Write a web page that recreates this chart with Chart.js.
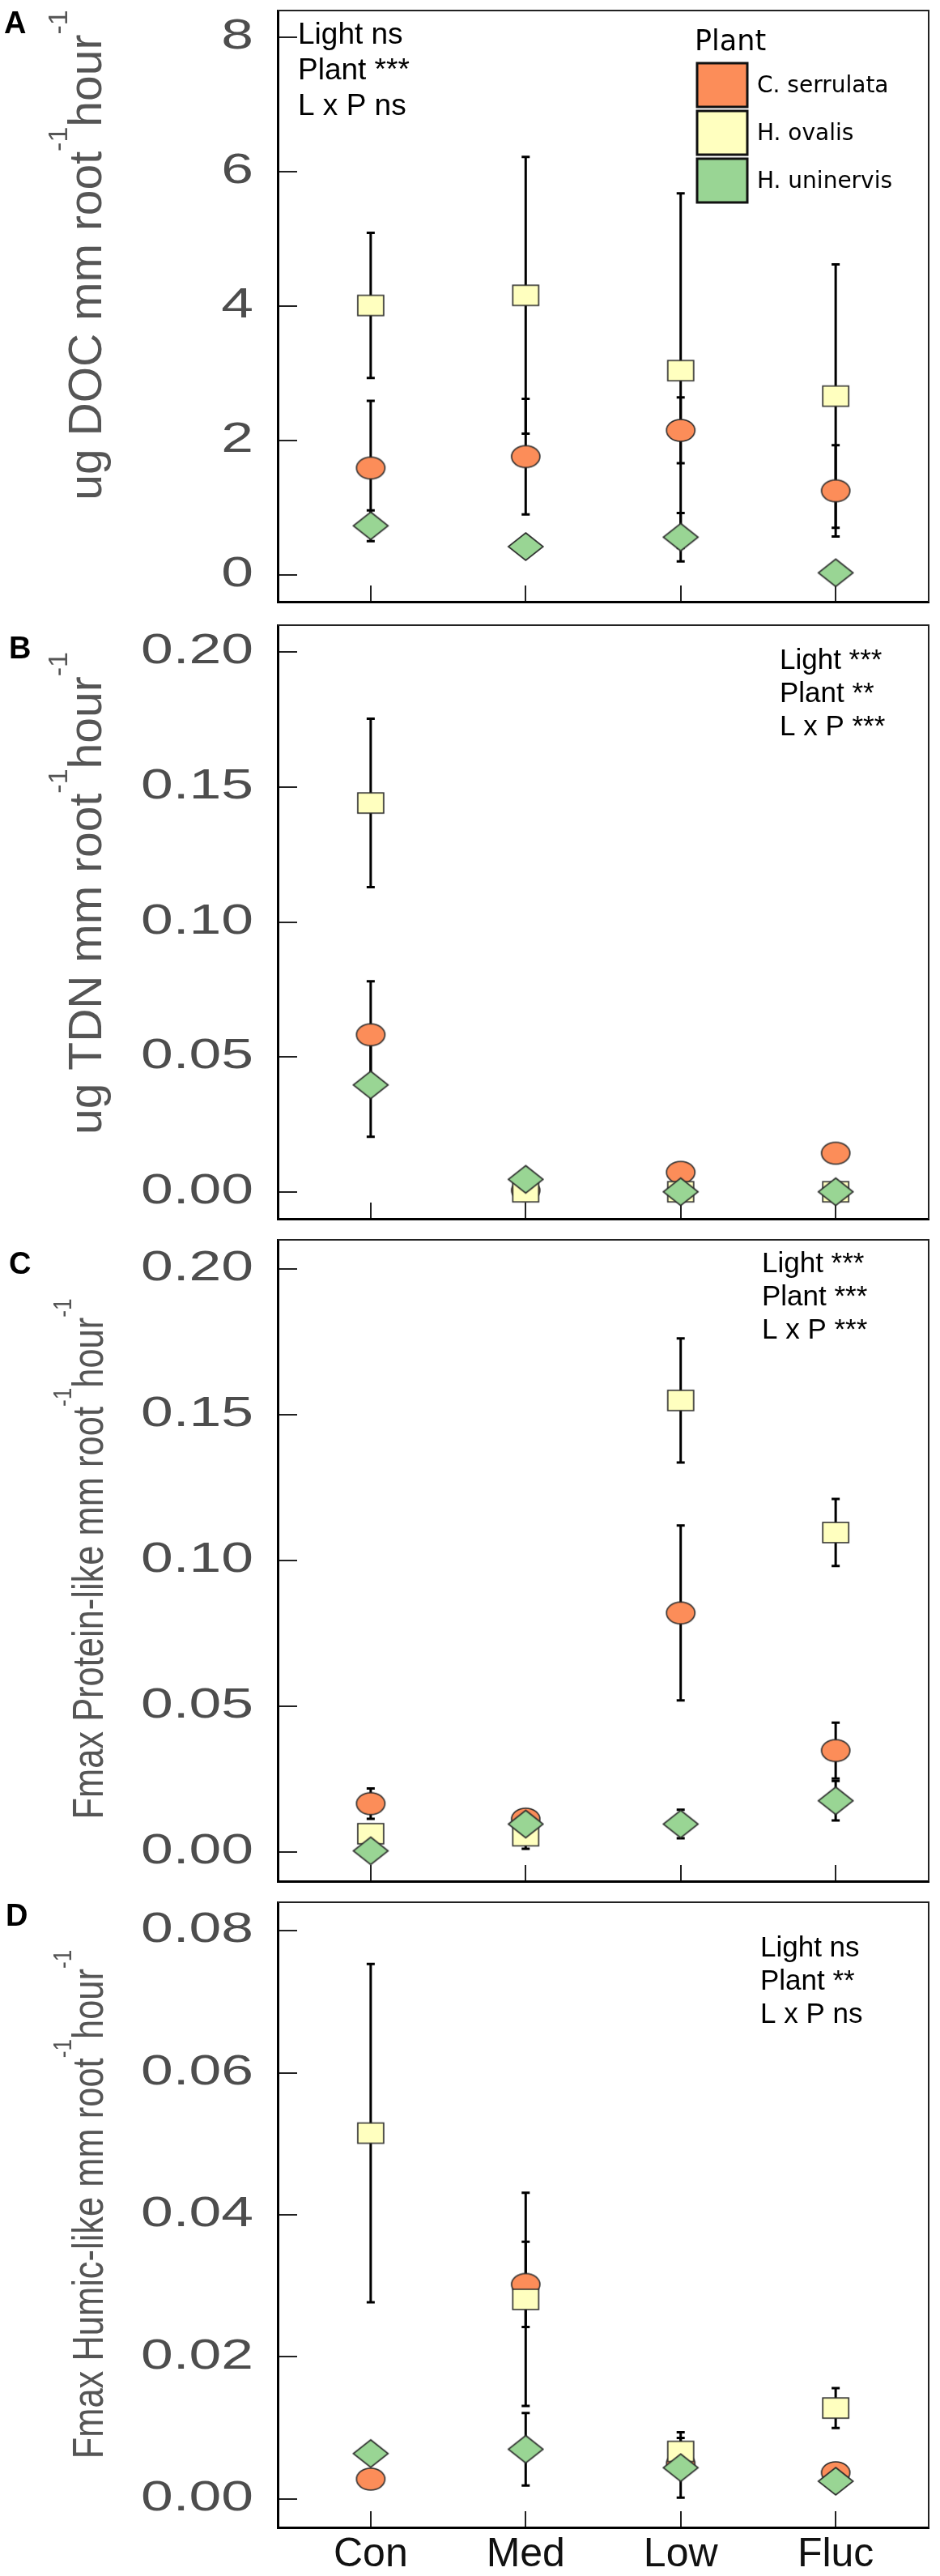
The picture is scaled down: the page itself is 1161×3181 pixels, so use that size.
<!DOCTYPE html>
<html>

<head>
    <meta charset="utf-8">
    <title>Root exudates by light treatment</title>
    <script src="https://cdn.jsdelivr.net/npm/chart.js@4.4.1/dist/chart.umd.min.js"></script>
    <style>
        body { margin: 0; background: #fff; width: 1161px; height: 3181px; position: relative; }
        canvas.panel { position: absolute; left: 0; }
    </style>
</head>

<body>
    <canvas id="chartA" class="panel" width="1161" height="757" style="top:0px;width:1161px;height:757px"></canvas>
    <canvas id="chartB" class="panel" width="1161" height="761" style="top:757px;width:1161px;height:761px"></canvas>
    <canvas id="chartC" class="panel" width="1161" height="818" style="top:1518px;width:1161px;height:818px"></canvas>
    <canvas id="chartD" class="panel" width="1161" height="845" style="top:2336px;width:1161px;height:845px"></canvas>
    <script>
        // categories
        const treatments = ['Con', 'Med', 'Low', 'Fluc'];
        const plants = ['C. serrulata', 'H. ovalis', 'H. uninervis'];
        const plantColors = ['#fc8d59', '#ffffbf', '#99d594'];

        // A - DOC (mean, SE)
        const docSerrulata = [1.59, 1.76, 2.15, 1.25];
        const docSerrulataSe = [1.00, 0.86, 0.49, 0.68];
        const docOvalis = [4.01, 4.16, 3.04, 2.66];
        const docOvalisSe = [1.08, 2.06, 2.64, 1.96];
        const docUninervis = [0.73, 0.42, 0.56, 0.03];
        const docUninervisSe = [0.23, 0.05, 0.36, 0.04];
        const docTicks = [0, 2, 4, 6, 8];
        const docTickLabels = ['0', '2', '4', '6', '8'];

        // B - TDN
        const tdnSerrulata = [0.0582, 0.0005, 0.0072, 0.0143];
        const tdnSerrulataSe = [0.0198, 0.0005, 0.0008, 0.0008];
        const tdnOvalis = [0.1441, 0.0000, 0.0000, 0.0000];
        const tdnOvalisSe = [0.0312, 0.0004, 0.0003, 0.0003];
        const tdnUninervis = [0.0396, 0.0046, 0.0000, 0.0000];
        const tdnUninervisSe = [0.0192, 0.0010, 0.0002, 0.0002];
        const tdnTicks = [0, 0.05, 0.10, 0.15, 0.20];
        const tdnTickLabels = ['0.00', '0.05', '0.10', '0.15', '0.20'];

        // C - Fmax protein-like
        const proSerrulata = [0.0166, 0.0113, 0.0820, 0.0348];
        const proSerrulataSe = [0.0052, 0.0032, 0.0300, 0.0096];
        const proOvalis = [0.0063, 0.0056, 0.1549, 0.1096];
        const proOvalisSe = [0.0020, 0.0045, 0.0213, 0.0115];
        const proUninervis = [0.0004, 0.0096, 0.0096, 0.0176];
        const proUninervisSe = [0.0010, 0.0020, 0.0049, 0.0068];
        const proTicks = [0, 0.05, 0.10, 0.15, 0.20];
        const proTickLabels = ['0.00', '0.05', '0.10', '0.15', '0.20'];

        // D - Fmax humic-like
        const humSerrulata = [0.0028, 0.0302, 0.0050, 0.0037];
        const humSerrulataSe = [0.0008, 0.0060, 0.0015, 0.0008];
        const humOvalis = [0.0515, 0.0281, 0.0067, 0.0128];
        const humOvalisSe = [0.0238, 0.0150, 0.0027, 0.0028];
        const humUninervis = [0.0064, 0.0070, 0.0044, 0.0025];
        const humUninervisSe = [0.0010, 0.0051, 0.0042, 0.0006];
        const humTicks = [0, 0.02, 0.04, 0.06, 0.08];
        const humTickLabels = ['0.00', '0.02', '0.04', '0.06', '0.08'];

        const SANS = "'Liberation Sans', Arial, sans-serif";
        const WIDE = "'DejaVu Sans', sans-serif";

        // linear scale whose tick labels are drawn wider (the figure's numbers are stretched)
        class WideLinear extends Chart.LinearScale {
            drawLabels(chartArea) {
                const sx = this.options.labelStretch || 1;
                const ctx = this.ctx;
                const ax = this.right - (this.options.grid.tickLength + this.options.ticks.padding);
                ctx.save();
                ctx.translate(ax, 0);
                ctx.scale(sx, 1);
                ctx.translate(-ax, 0);
                super.drawLabels(chartArea);
                ctx.restore();
            }
        }
        WideLinear.id = 'wideLinear';
        WideLinear.defaults = Chart.LinearScale.defaults;
        Chart.register(WideLinear);

        // marker images: circle, square, diamond
        function makeMarker(shape, w, h, fill) {
            const c = document.createElement('canvas');
            c.width = w + 4;
            c.height = h + 4;
            const g = c.getContext('2d');
            const cx = c.width / 2, cy = c.height / 2;
            g.fillStyle = fill;
            g.strokeStyle = '#2a2a2a';
            g.lineWidth = 1.6;
            g.beginPath();
            if (shape == 'circle') {
                g.ellipse(cx, cy, w / 2, h / 2, 0, 0, Math.PI * 2);
            } else if (shape == 'square') {
                g.rect(cx - w / 2, cy - h / 2, w, h);
            } else {
                g.moveTo(cx, cy - h / 2);
                g.lineTo(cx + w / 2, cy);
                g.lineTo(cx, cy + h / 2);
                g.lineTo(cx - w / 2, cy);
                g.closePath();
            }
            g.fill();
            g.stroke();
            return c;
        }
        const markers = [
            makeMarker('circle', 35, 27, plantColors[0]),
            makeMarker('square', 32, 25, plantColors[1]),
            makeMarker('diamond', 43, 34, plantColors[2])
        ];

        // vertical SE bars, drawn under the markers
        const errorBars = {
            id: 'errorBars',
            beforeDatasetsDraw(chart) {
                const { ctx, scales: { x, y } } = chart;
                ctx.save();
                ctx.strokeStyle = '#000';
                ctx.lineWidth = 3;
                chart.data.datasets.forEach(ds => {
                    ds.data.forEach((pt, i) => {
                        const px = x.getPixelForValue(pt.x);
                        const top = y.getPixelForValue(pt.y + ds.errors[i]);
                        const bot = y.getPixelForValue(pt.y - ds.errors[i]);
                        ctx.beginPath();
                        ctx.moveTo(px, top);
                        ctx.lineTo(px, bot);
                        ctx.moveTo(px - 5, top);
                        ctx.lineTo(px + 5, top);
                        ctx.moveTo(px - 5, bot);
                        ctx.lineTo(px + 5, bot);
                        ctx.stroke();
                    });
                });
                ctx.restore();
            }
        };

        // rotated axis title with real superscripts (odd parts are superscript)
        function drawAxisTitle(ctx, parts, x, cy, size, along) {
            const big = size + 'px ' + SANS;
            const small = Math.round(size * 0.6) + 'px ' + SANS;
            ctx.save();
            ctx.translate(x, cy);
            ctx.rotate(-Math.PI / 2);
            ctx.scale(along, 1);
            ctx.fillStyle = '#555';
            ctx.textBaseline = 'alphabetic';
            ctx.textAlign = 'left';
            let total = 0;
            parts.forEach((p, i) => {
                ctx.font = i % 2 ? small : big;
                total += ctx.measureText(p).width;
            });
            let pos = -total / 2;
            parts.forEach((p, i) => {
                ctx.font = i % 2 ? small : big;
                ctx.fillText(p, pos, i % 2 ? -0.74 * size : 0);
                pos += ctx.measureText(p).width;
            });
            ctx.restore();
        }

        // thin top/right edges of the box, axis title, panel letter, statistics text, legend
        const panelText = {
            id: 'panelText',
            afterDraw(chart, args, opts) {
                const { ctx, chartArea: a } = chart;
                ctx.save();
                ctx.strokeStyle = '#222';
                ctx.lineWidth = 2;
                ctx.beginPath();
                ctx.moveTo(a.left, a.top);
                ctx.lineTo(a.right, a.top);
                ctx.lineTo(a.right, a.bottom);
                ctx.stroke();

                drawAxisTitle(ctx, opts.title, opts.titleX, opts.titleY, opts.titleSize, opts.titleAlong);

                ctx.fillStyle = '#000';
                ctx.textBaseline = 'alphabetic';
                ctx.textAlign = 'left';
                ctx.font = 'bold 38px ' + SANS;
                ctx.fillText(opts.letter, opts.letterX, opts.letterY);

                ctx.font = opts.noteSize + 'px ' + SANS;
                opts.notes.forEach((t, i) => {
                    ctx.fillText(t, opts.noteX, opts.noteY + i * opts.noteGap);
                });

                if (opts.legend) {
                    ctx.font = '35px ' + WIDE;
                    ctx.fillText('Plant', 858, 62);
                    ctx.font = '28px ' + WIDE;
                    ctx.lineWidth = 3;
                    ctx.strokeStyle = '#111';
                    plants.forEach((p, k) => {
                        const top = 78 + k * 59;
                        ctx.fillStyle = plantColors[k];
                        ctx.fillRect(861, top, 62, 54);
                        ctx.strokeRect(861, top, 62, 54);
                        ctx.fillStyle = '#000';
                        ctx.textBaseline = 'middle';
                        ctx.fillText(p, 935, top + 29);
                    });
                }
                ctx.restore();
            }
        };

        function buildPanel(id, cfg) {
            const top = cfg.ticks[cfg.ticks.length - 1];
            const datasets = plants.map((name, k) => ({
                label: name,
                data: cfg.means[k].map((v, i) => ({ x: i + 1, y: v })),
                errors: cfg.errors[k],
                pointStyle: markers[k],
                pointRadius: 12,
                pointHoverRadius: 12,
                backgroundColor: plantColors[k],
                borderColor: '#2a2a2a',
                order: 3 - k
            }));
            return new Chart(document.getElementById(id), {
                type: 'scatter',
                data: { datasets: datasets },
                plugins: [errorBars, panelText],
                options: {
                    responsive: false,
                    animation: false,
                    devicePixelRatio: 1,
                    events: [],
                    layout: { padding: { left: 0, right: 14, top: cfg.padTop, bottom: 0 } },
                    plugins: {
                        legend: { display: false },
                        tooltip: { enabled: false },
                        panelText: {
                            title: cfg.title, titleX: cfg.titleX, titleY: cfg.titleY,
                            titleSize: cfg.titleSize, titleAlong: cfg.titleAlong,
                            letter: cfg.letter, letterX: cfg.letterX, letterY: cfg.letterY,
                            notes: cfg.notes, noteX: cfg.noteX, noteY: cfg.noteY,
                            noteGap: cfg.noteGap, noteSize: cfg.noteSize, legend: cfg.legend
                        }
                    },
                    scales: {
                        x: {
                            type: 'linear',
                            min: 0.4,
                            max: 4.6,
                            afterBuildTicks: s => { s.ticks = treatments.map((t, i) => ({ value: i + 1 })); },
                            afterFit: s => {
                                s.height = cfg.xHeight;
                                s.paddingLeft = 0;
                                s.paddingRight = 0;
                            },
                            ticks: {
                                display: cfg.showX,
                                autoSkip: false,
                                maxRotation: 0,
                                padding: 24,
                                color: '#111',
                                font: { family: SANS, size: 50 },
                                callback: (v, i) => treatments[i]
                            },
                            grid: { drawOnChartArea: false, tickLength: -20, color: '#222', lineWidth: 2 },
                            border: { color: '#000', width: 3 }
                        },
                        y: {
                            type: 'wideLinear',
                            labelStretch: 1.4,
                            min: -0.05 * top,
                            max: 1.05 * top,
                            afterBuildTicks: s => { s.ticks = cfg.ticks.map(v => ({ value: v })); },
                            afterFit: s => {
                                s.width = 343;
                                s.paddingTop = 0;
                                s.paddingBottom = 0;
                            },
                            ticks: {
                                autoSkip: false,
                                padding: 54,
                                color: '#4d4d4d',
                                font: { family: SANS, size: 51 },
                                callback: (v, i) => cfg.tickLabels[i]
                            },
                            grid: { drawOnChartArea: false, tickLength: -24, color: '#222', lineWidth: 2 },
                            border: { color: '#000', width: 3 },
                            title: { display: false }
                        }
                    }
                }
            });
        }

        buildPanel('chartA', {
            means: [docSerrulata, docOvalis, docUninervis],
            errors: [docSerrulataSe, docOvalisSe, docUninervisSe],
            ticks: docTicks, tickLabels: docTickLabels,
            title: ['ug DOC mm root', '-1', 'hour', '-1'],
            titleSize: 57, titleX: 125, titleY: 315, titleAlong: 1,
            padTop: 9, xHeight: 14, showX: false,
            letter: 'A', letterX: 5, letterY: 41,
            notes: ['Light ns', 'Plant ***', 'L x P ns'], noteX: 368, noteY: 54, noteGap: 44, noteSize: 37,
            legend: true
        });

        buildPanel('chartB', {
            means: [tdnSerrulata, tdnOvalis, tdnUninervis],
            errors: [tdnSerrulataSe, tdnOvalisSe, tdnUninervisSe],
            ticks: tdnTicks, tickLabels: tdnTickLabels,
            title: ['ug TDN mm root', '-1', 'hour', '-1'],
            titleSize: 57, titleX: 125, titleY: 346, titleAlong: 1,
            padTop: 15, xHeight: 11, showX: false,
            letter: 'B', letterX: 11, letterY: 56,
            notes: ['Light ***', 'Plant **', 'L x P ***'], noteX: 963, noteY: 69, noteGap: 41, noteSize: 35,
            legend: false
        });

        buildPanel('chartC', {
            means: [proSerrulata, proOvalis, proUninervis],
            errors: [proSerrulataSe, proOvalisSe, proUninervisSe],
            ticks: proTicks, tickLabels: proTickLabels,
            title: ['Fmax Protein-like mm root', '-1', 'hour', '-1'],
            titleSize: 53, titleX: 127, titleY: 407, titleAlong: 0.82,
            padTop: 11, xHeight: 10, showX: false,
            letter: 'C', letterX: 11, letterY: 55,
            notes: ['Light ***', 'Plant ***', 'L x P ***'], noteX: 941, noteY: 53, noteGap: 41, noteSize: 35,
            legend: false
        });

        buildPanel('chartD', {
            means: [humSerrulata, humOvalis, humUninervis],
            errors: [humSerrulataSe, humOvalisSe, humUninervisSe],
            ticks: humTicks, tickLabels: humTickLabels,
            title: ['Fmax Humic-like mm root', '-1', 'hour', '-1'],
            titleSize: 53, titleX: 127, titleY: 386, titleAlong: 0.82,
            padTop: 10, xHeight: 60, showX: true,
            letter: 'D', letterX: 7, letterY: 42,
            notes: ['Light ns', 'Plant **', 'L x P ns'], noteX: 939, noteY: 80, noteGap: 41, noteSize: 35,
            legend: false
        });
    </script>
</body>

</html>
